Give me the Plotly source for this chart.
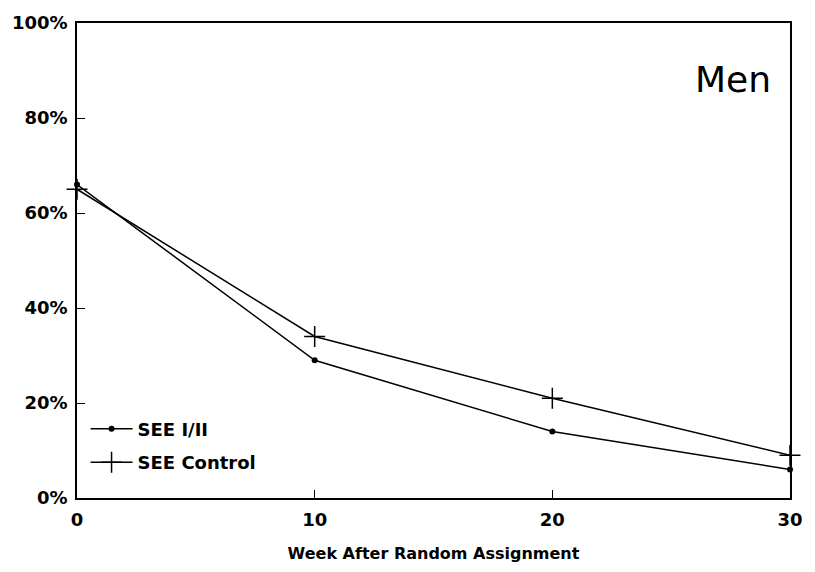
import plotly.graph_objects as go

weeks = [0, 10, 20, 30]
see_i_ii = [66, 29, 14, 6]
see_control = [65, 34, 21, 9]
series_names = ["SEE I/II", "SEE Control"]
y_tick_vals = [0, 20, 40, 60, 80, 100]
y_tick_text = ["0%", "20%", "40%", "60%", "80%", "100%"]
x_tick_vals = [0, 10, 20, 30]

BOLD = "DejaVu Sans, Liberation Sans, Arial, sans-serif"

fig = go.Figure()
fig.add_trace(go.Scatter(
    x=weeks, y=see_i_ii, name=series_names[0], mode="lines+markers",
    line=dict(color="black", width=1.5),
    marker=dict(symbol="circle", size=6, color="black"),
    cliponaxis=False, legendgroup="a",
))
fig.add_trace(go.Scatter(
    x=weeks, y=see_control, name=series_names[1], mode="lines+markers",
    line=dict(color="black", width=1.5),
    marker=dict(symbol="cross-thin", size=15, line=dict(color="black", width=1.5)),
    cliponaxis=False, legendgroup="b",
))

fig.add_annotation(
    x=0.976, y=0.882, xref="paper", yref="paper", xanchor="right", yanchor="middle",
    text="Men", showarrow=False,
    font=dict(family="DejaVu Sans, Arial, sans-serif", size=36, color="black"),
)

fig.update_layout(
    width=815, height=572,
    margin=dict(l=70, r=15, t=15, b=65),
    paper_bgcolor="white", plot_bgcolor="white",
    font=dict(family=BOLD, color="black"),
    showlegend=True,
    legend=dict(
        x=0.012, y=0.184, xanchor="left", yanchor="top",
        bgcolor="rgba(0,0,0,0)", borderwidth=0,
        font=dict(family=BOLD, size=18, color="black", weight="bold"),
        traceorder="grouped", tracegroupgap=7, itemwidth=42,
    ),
    xaxis=dict(
        range=[0, 30], tickvals=x_tick_vals, ticks="inside", ticklen=8, tickwidth=1.2,
        tickcolor="black", showline=True, linecolor="black", linewidth=1.5, mirror=True,
        showgrid=False, zeroline=False, ticklabelstandoff=5,
        tickfont=dict(family=BOLD, size=18, color="black", weight="bold"),
        title=dict(text="Week After Random Assignment", standoff=18,
                   font=dict(family=BOLD, size=16, color="black", weight="bold")),
    ),
    yaxis=dict(
        range=[0, 100], tickvals=y_tick_vals, ticktext=y_tick_text, ticks="inside",
        ticklen=8, tickwidth=1.2, tickcolor="black", showline=True, linecolor="black",
        linewidth=1.5, mirror=True, showgrid=False, zeroline=False, ticklabelstandoff=4,
        tickfont=dict(family=BOLD, size=18, color="black", weight="bold"),
    ),
)

fig.write_html("out.html", config={"displayModeBar": False},
               post_script="document.body.style.margin='0';")
